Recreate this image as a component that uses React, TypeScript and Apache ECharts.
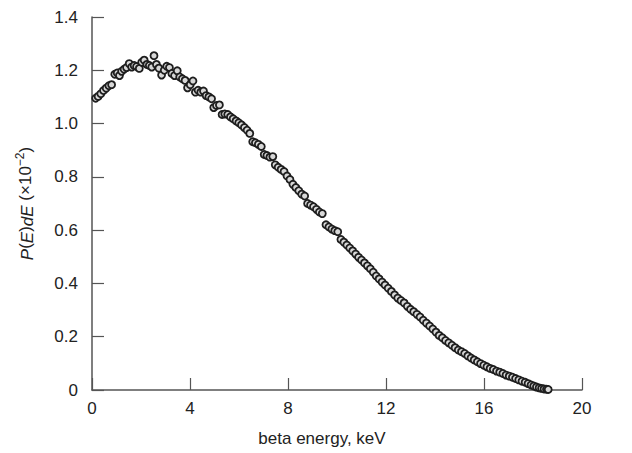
import React, { useEffect, useRef } from "react";
import * as echarts from "echarts";

const energy: number[] = [
  0.15, 0.25, 0.36, 0.47, 0.58, 0.69, 0.8, 0.93, 1.03, 1.12, 1.21, 1.31, 1.41, 1.52, 1.62, 1.72, 1.82, 1.93,
  2.03, 2.13, 2.24, 2.34, 2.44, 2.53, 2.63, 2.73, 2.84, 2.95, 3.05, 3.16, 3.26, 3.37, 3.48, 3.58, 3.69, 3.8,
  3.9, 4.01, 4.12, 4.22, 4.33, 4.44, 4.55, 4.66, 4.77, 4.88, 4.97, 5.08, 5.2, 5.31, 5.42, 5.54, 5.65, 5.76,
  5.88, 5.99, 6.1, 6.22, 6.33, 6.44, 6.56, 6.67, 6.79, 6.91, 7.03, 7.14, 7.26, 7.38, 7.48, 7.6, 7.72, 7.84,
  7.96, 8.08, 8.2, 8.32, 8.44, 8.56, 8.68, 8.8, 8.92, 9.04, 9.16, 9.28, 9.4, 9.55, 9.67, 9.79, 9.91, 10.03,
  10.16, 10.28, 10.4, 10.52, 10.64, 10.76, 10.88, 11.0, 11.12, 11.24, 11.36, 11.48, 11.6, 11.72, 11.84, 11.96,
  12.09, 12.22, 12.35, 12.48, 12.61, 12.74, 12.87, 13.0, 13.13, 13.26, 13.39, 13.52, 13.65, 13.78, 13.91, 14.04,
  14.17, 14.3, 14.43, 14.56, 14.69, 14.82, 14.95, 15.08, 15.21, 15.34, 15.47, 15.6, 15.73, 15.86, 15.99, 16.12,
  16.25, 16.38, 16.51, 16.64, 16.77, 16.9, 17.03, 17.16, 17.29, 17.42, 17.55, 17.68, 17.8, 17.92, 18.03, 18.14,
  18.25, 18.35, 18.45, 18.55, 18.62,
];

const probability: number[] = [
  1.095, 1.102, 1.112, 1.124, 1.133, 1.142, 1.146, 1.185, 1.19, 1.18, 1.196, 1.204, 1.21, 1.225, 1.212, 1.218, 1.214, 1.207,
  1.23, 1.238, 1.222, 1.218, 1.212, 1.255, 1.222, 1.208, 1.182, 1.2, 1.215, 1.21, 1.188, 1.18, 1.198, 1.175, 1.168, 1.162,
  1.134, 1.146, 1.16, 1.118, 1.125, 1.118, 1.122, 1.105, 1.1, 1.093, 1.06, 1.068, 1.07, 1.034, 1.036, 1.034, 1.025, 1.018,
  1.01, 1.003, 0.995, 0.985, 0.975, 0.963, 0.932, 0.928, 0.922, 0.914, 0.884, 0.88, 0.874, 0.876, 0.845, 0.836, 0.828, 0.82,
  0.803, 0.79, 0.772, 0.76, 0.748, 0.735, 0.728, 0.7, 0.694, 0.688, 0.678, 0.668, 0.662, 0.62, 0.612, 0.604, 0.598, 0.594,
  0.565, 0.555, 0.544, 0.533, 0.522, 0.51, 0.498, 0.488, 0.477, 0.466, 0.455, 0.442, 0.428, 0.417, 0.405, 0.394,
  0.382, 0.37, 0.357, 0.345, 0.336, 0.327, 0.314, 0.303, 0.294, 0.284, 0.274, 0.262, 0.251, 0.24, 0.229, 0.217,
  0.205, 0.196, 0.186, 0.177, 0.168, 0.159, 0.15, 0.144, 0.137, 0.128, 0.12, 0.113, 0.106, 0.099, 0.093, 0.087,
  0.081, 0.077, 0.071, 0.067, 0.062, 0.056, 0.052, 0.048, 0.043, 0.038, 0.033, 0.029, 0.024, 0.019, 0.015, 0.011,
  0.008, 0.006, 0.004, 0.003, 0.002,
];

const xTicks = { min: 0, max: 20, interval: 4 };
const yTicks = { min: 0, max: 1.4, interval: 0.2 };
const xAxisTitle = "beta energy, keV";
const yAxisTitle = "{i|P}({i|E}){i|dE} (×10{sup|−2})";

const FONT = "'Liberation Sans', Arial, Helvetica, sans-serif";

export default function App() {
  const ref = useRef<HTMLDivElement>(null);

  useEffect(() => {
    document.body.style.margin = "0";
    if (!ref.current) return;
    const chart = echarts.init(ref.current, null, { renderer: "svg" });
    const data = energy.map((e, i) => [e, probability[i]]);
    const axisColor = "#555";
    const textColor = "#222";
    chart.setOption({
      animation: false,
      backgroundColor: "#fff",
      grid: { left: 92, right: 50, top: 17, bottom: 63 },
      xAxis: {
        type: "value",
        min: xTicks.min,
        max: xTicks.max,
        interval: xTicks.interval,
        name: xAxisTitle,
        nameLocation: "middle",
        nameGap: 40,
        nameTextStyle: { fontFamily: FONT, fontSize: 17, color: textColor, padding: [0, 30, 0, 0] },
        axisLine: { show: true, lineStyle: { color: axisColor, width: 1.5 } },
        axisTick: { show: true, inside: true, length: 12, lineStyle: { color: axisColor, width: 1.2 } },
        axisLabel: { fontFamily: FONT, fontSize: 17, color: textColor, margin: 10 },
        splitLine: { show: false },
      },
      yAxis: {
        type: "value",
        min: yTicks.min,
        max: yTicks.max,
        interval: yTicks.interval,
        name: yAxisTitle,
        nameLocation: "middle",
        nameGap: 56,
        nameRotate: 90,
        nameTextStyle: {
          fontFamily: FONT,
          fontSize: 17,
          color: textColor,
          lineHeight: 22,
          verticalAlign: "bottom",
          rich: {
            i: { fontStyle: "italic", fontFamily: FONT, fontSize: 17, color: textColor, lineHeight: 22, verticalAlign: "bottom" },
            sup: { fontFamily: FONT, fontSize: 12, color: textColor, lineHeight: 22, verticalAlign: "top" },
          },
        },
        axisLine: { show: true, lineStyle: { color: axisColor, width: 1.5 } },
        axisTick: { show: true, inside: true, length: 12, lineStyle: { color: axisColor, width: 1.2 } },
        axisLabel: {
          fontFamily: FONT,
          fontSize: 17,
          color: textColor,
          margin: 14,
          formatter: (v: number) => (v === 0 ? "0" : v.toFixed(1)),
        },
        splitLine: { show: false },
      },
      series: [
        {
          type: "scatter",
          data,
          symbol: "circle",
          symbolSize: 7,
          itemStyle: { color: "#d8d8d8", borderColor: "#1e1e1e", borderWidth: 1.8, opacity: 1 },
        },
      ],
    });
    return () => chart.dispose();
  }, []);

  return <div ref={ref} style={{ width: 632, height: 453 }} />;
}
